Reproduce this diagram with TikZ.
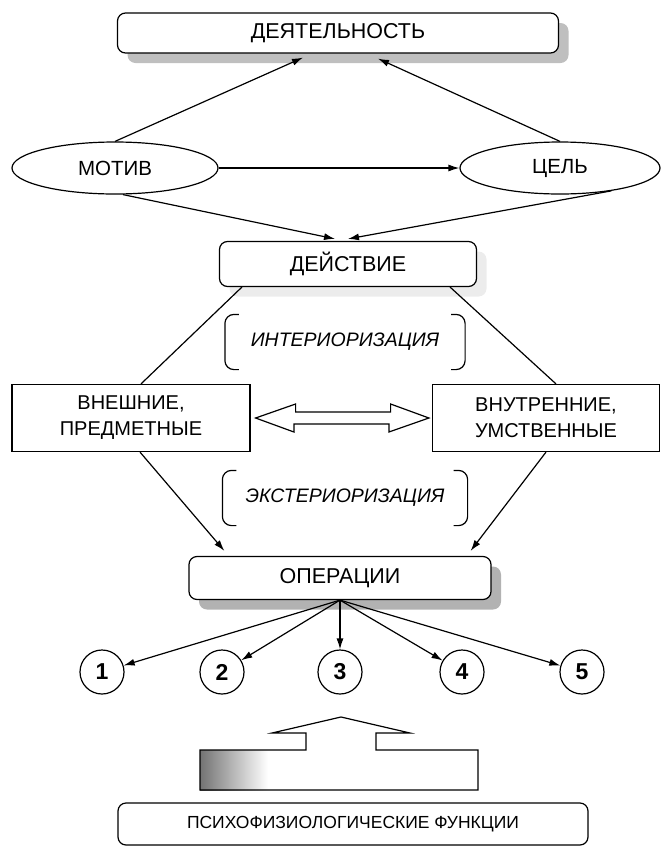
\documentclass[tikz,border=0pt]{standalone}
\usepackage{fontspec}
\setmainfont{Liberation Sans}
\usetikzlibrary{shapes.geometric,arrows.meta,shadows}

\begin{document}
\begin{tikzpicture}[x=1pt,y=-1pt,line width=1.2pt,
	big/.style={font=\fontsize{21.5}{25}\selectfont},
	box/.style={draw, rounded corners=8pt, fill=white, big, inner sep=0pt},
	oval/.style={draw, ellipse, fill=white, inner sep=0pt, minimum height=52pt, font=\fontsize{20.5}{24}\selectfont},
	sq/.style={draw, fill=white, align=center, inner sep=0pt, minimum height=67pt, font=\fontsize{20}{26}\selectfont},
	brk/.style={inner sep=0pt, minimum height=54pt, font=\itshape\fontsize{19.5}{22}\selectfont},
	num/.style={draw, circle, minimum size=44pt, inner sep=0pt, font=\bfseries\fontsize{23}{23}\selectfont},
	arr/.style={-{Latex[length=11pt,width=7pt]}},
	shad/.style={drop shadow={shadow xshift=10pt, shadow yshift=-10pt, fill=#1, opacity=1}}]
	\useasboundingbox (0,0) rectangle (669,847);

	% nodes
	\node[box, shad=gray!50, minimum width=441pt, minimum height=40pt] (dejat) at (338,33) {ДЕЯТЕЛЬНОСТЬ};
	\node[oval, minimum width=206pt] (motiv) at (115,168) {МОТИВ};
	\node[oval, minimum width=200pt] (cel) at (560,168) {ЦЕЛЬ};
	\node[box, shad=gray!15, minimum width=257pt, minimum height=45pt] (dejst) at (348,264) {ДЕЙСТВИЕ};
	\node[brk, minimum width=239pt] (intr) at (345,342) {ИНТЕРИОРИЗАЦИЯ};
	\node[sq, minimum width=238pt] (vnesh) at (131,418) {ВНЕШНИЕ,\\ПРЕДМЕТНЫЕ};
	\node[sq, minimum width=227pt] (vnutr) at (546,418) {ВНУТРЕННИЕ,\\УМСТВЕННЫЕ};
	\node[brk, minimum width=244pt] (extr) at (345,498) {ЭКСТЕРИОРИЗАЦИЯ};
	\node[box, shad=gray!60, minimum width=302pt, minimum height=43pt] (oper) at (340,578) {ОПЕРАЦИИ};
	\foreach \i/\x in {1/102,2/222,3/340,4/462,5/582}
		\node[num] (c\i) at (\x,672) {\i};
	\node[box, minimum width=470pt, minimum height=42pt, font=\fontsize{17.5}{20}\selectfont] (psy) at (353,824) {ПСИХОФИЗИОЛОГИЧЕСКИЕ ФУНКЦИИ};

	% brackets
	\foreach \n in {intr,extr} {
		\draw[rounded corners=9pt] ([xshift=14pt]\n.north west) -- (\n.north west) -- (\n.south west) -- ([xshift=14pt]\n.south west);
		\draw[rounded corners=9pt] ([xshift=-14pt]\n.north east) -- (\n.north east) -- (\n.south east) -- ([xshift=-14pt]\n.south east);
	}

	%lines
	\draw[arr] (motiv.north) -- ([xshift=-35pt,yshift=-4pt]dejat.south);
	\draw[arr] (cel.north) -- ([xshift=40pt,yshift=-5pt]dejat.south);
	\draw[arr] (motiv) -- (cel);
	\draw[arr] ([xshift=8pt]motiv.south) -- ([xshift=-13pt,yshift=2pt]dejst.north);
	\draw[arr] (cel.-24) -- ([yshift=2pt]dejst.north);
	\draw ([xshift=23pt]dejst.south west) -- ([xshift=10pt]vnesh.north);
	\draw ([xshift=-27pt]dejst.south east) -- ([xshift=10pt]vnutr.north);
	\draw[arr] ([xshift=9pt]vnesh.south) -- ([xshift=36pt,yshift=5pt]oper.north west);
	\draw[arr] (vnutr.south) -- ([xshift=-21pt,yshift=5pt]oper.north east);
	\foreach \i in {1,...,5}
		\draw[arr] (oper.south) -- (c\i);

	% hollow double arrow
	\draw ([xshift=5pt]vnesh.east) -- ++(40,-14) -- ++(0,8) -- ++(95,0) -- ++(0,-8) -- ([xshift=-3pt]vnutr.west)
		-- ++(-40,14) -- ++(0,-8) -- ++(-95,0) -- ++(0,8) -- cycle;

	% big arrow from the functions
	\shade[left color=gray!90!black, right color=white] (200,750) rectangle (268,790);
	\draw (341,717) -- (410,733) -- (376,733) -- (376,750) -- (478,750) -- (478,790) -- (200,790)
		-- (200,750) -- (306,750) -- (306,733) -- (272,733) -- cycle;
\end{tikzpicture}
\end{document}
